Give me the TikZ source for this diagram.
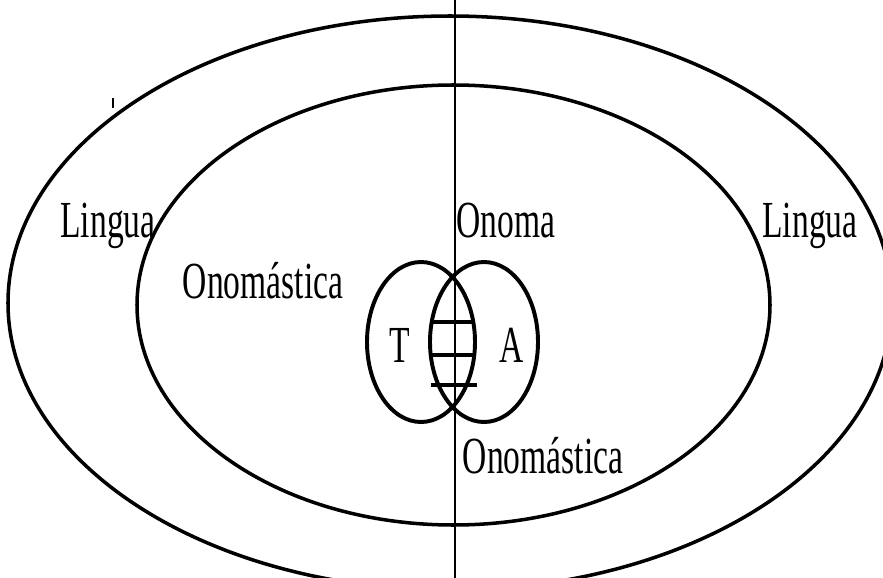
\documentclass[tikz,border=0pt]{standalone}
\usepackage{fontspec}
\setmainfont{Liberation Serif}
\usetikzlibrary{positioning}

\begin{document}
\begin{tikzpicture}[
    x=0.025cm, y=-0.025cm,
    ring/.style={draw, line width=2.5pt},
    lobe/.style={draw, line width=2.8pt},
    hatch/.style={line width=3pt},
    word/.style={font=\fontsize{37}{40}\selectfont, xscale=0.645, anchor=base, inner sep=0pt}
]
\useasboundingbox (0,0) rectangle (883,578);

% Rings
\draw[ring] (450,303) ellipse [x radius=442, y radius=287];
\draw[ring] (453.5,305) ellipse [x radius=316.5, y radius=220];

% Axis
\coordinate (top) at (455,0);
\coordinate (bottom) at (455,578);
\draw[line width=1.3pt] (top) -- (bottom);

% Lobes
\draw[lobe] (421,342) ellipse [x radius=54, y radius=80];
\draw[lobe] (484,342) ellipse [x radius=54, y radius=80];
\draw[hatch] (432,322) -- (474,322);
\draw[hatch] (432,355) -- (474,355);
\draw[hatch] (431,385) -- (477,385);
\draw[line width=2pt] (113,98) -- (113,108);

% Nodes
\node[word] (linguaL) at (108,237) {Lingua};
\node[word] (linguaR) at (810,237) {Lingua};
\node[word] (onoma) at (506,237) {Onoma};
\node[word] (onomL) at (263,298) {Onomástica};
\node[word] (onomB) at (543,473) {Onomástica};
\node[word] (t) at (400,362) {T};
\node[word] (a) at (512,362) {A};

\end{tikzpicture}
\end{document}
